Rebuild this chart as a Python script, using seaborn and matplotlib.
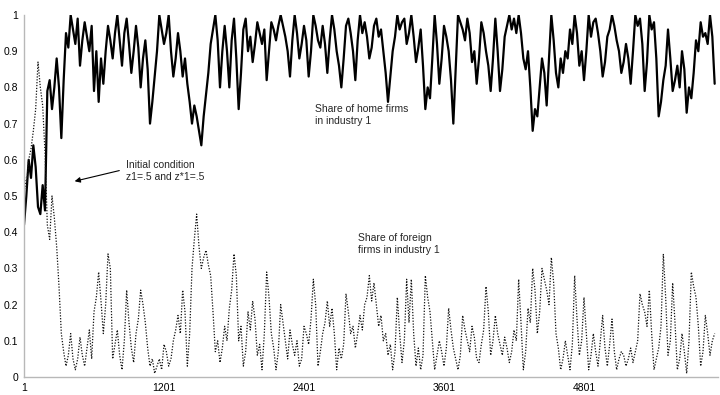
import numpy as np
import pandas as pd
import matplotlib
matplotlib.use("Agg")
import matplotlib.pyplot as plt
import seaborn as sns

# ==============================================================
# DATA (main readings every 40 periods,
# in-between readings at the half steps)
# ==============================================================
STEP = 40
home_share = [
    0.42, 0.60, 0.64, 0.47, 0.53, 0.79, 0.74, 0.88, 0.66, 0.95,
    1.00, 0.92, 0.86, 0.98, 0.90, 0.79, 0.76, 0.81, 0.97, 0.88,
    1.00, 0.86, 0.99, 0.84, 0.97, 0.80, 0.93, 0.70, 0.83, 1.00,
    0.92, 1.00, 0.83, 0.95, 0.83, 0.81, 0.70, 0.72, 0.64, 0.78,
    0.92, 1.00, 0.80, 0.97, 0.80, 0.99, 0.74, 0.96, 0.90, 0.87,
    0.98, 0.92, 0.82, 0.98, 0.93, 1.00, 0.94, 0.83, 1.00, 0.88,
    0.97, 0.83, 1.00, 0.93, 0.97, 0.84, 1.00, 0.90, 0.80, 0.97,
    0.95, 0.82, 1.00, 0.98, 0.88, 0.97, 0.94, 0.90, 0.76, 0.90,
    1.00, 0.98, 0.92, 1.00, 0.87, 0.96, 0.74, 0.77, 1.00, 0.81,
    0.97, 0.90, 0.70, 1.00, 0.96, 0.99, 0.87, 0.81, 0.98, 0.90,
    0.79, 0.99, 0.79, 0.94, 1.00, 0.99, 1.00, 0.88, 0.90, 0.68,
    0.72, 0.88, 0.75, 1.00, 0.84, 0.88, 0.90, 0.96, 1.00, 0.86,
    0.82, 1.00, 0.98, 0.95, 0.83, 0.94, 1.00, 0.93, 0.84, 0.92,
    0.81, 1.00, 0.99, 0.79, 1.00, 0.98, 0.72, 0.82, 0.96, 0.79,
    0.86, 0.90, 0.73, 0.77, 0.93, 0.98, 0.95, 1.00, 0.81,
]
home_share_mid = [
    0.50, 0.55, 0.58, 0.45, 0.46, 0.82, 0.80, 0.80, 0.82, 0.91,
    0.96, 0.99, 0.93, 0.94, 0.97, 0.90, 0.88, 0.90, 0.93, 0.95,
    0.93, 0.95, 0.92, 0.90, 0.91, 0.88, 0.85, 0.76, 0.90, 0.96,
    0.95, 0.90, 0.88, 0.90, 0.88, 0.76, 0.75, 0.68, 0.72, 0.84,
    0.96, 0.93, 0.90, 0.90, 0.93, 0.88, 0.84, 0.99, 0.94, 0.92,
    0.95, 0.96, 0.90, 0.96, 0.97, 0.97, 0.90, 0.93, 0.95, 0.92,
    0.93, 0.90, 0.97, 0.91, 0.92, 0.93, 0.96, 0.86, 0.88, 0.99,
    0.90, 0.93, 0.95, 0.94, 0.91, 0.99, 0.96, 0.84, 0.83, 0.94,
    0.96, 0.99, 0.95, 0.94, 0.91, 0.86, 0.80, 0.88, 0.92, 0.88,
    0.94, 0.82, 0.85, 0.98, 0.93, 0.95, 0.90, 0.88, 0.95, 0.86,
    0.88, 0.90, 0.85, 0.97, 0.96, 0.95, 0.95, 0.85, 0.80, 0.74,
    0.80, 0.84, 0.88, 0.93, 0.80, 0.84, 0.88, 0.92, 0.95, 0.90,
    0.90, 0.94, 0.99, 0.90, 0.87, 0.96, 0.97, 0.90, 0.87, 0.88,
    0.90, 0.97, 0.92, 0.87, 0.96, 0.88, 0.76, 0.86, 0.88, 0.82,
    0.80, 0.85, 0.80, 0.84, 0.90, 0.94, 0.92, 0.94,
]
foreign_share = [
    0.56, 0.60, 0.68, 0.87, 0.75, 0.42, 0.50, 0.36, 0.12, 0.03,
    0.12, 0.02, 0.11, 0.03, 0.13, 0.18, 0.29, 0.12, 0.34, 0.05,
    0.13, 0.02, 0.24, 0.08, 0.12, 0.24, 0.15, 0.03, 0.01, 0.05,
    0.09, 0.03, 0.10, 0.17, 0.24, 0.03, 0.30, 0.45, 0.30, 0.35,
    0.28, 0.07, 0.04, 0.14, 0.19, 0.34, 0.10, 0.03, 0.18, 0.21,
    0.06, 0.02, 0.29, 0.12, 0.02, 0.20, 0.10, 0.13, 0.06, 0.03,
    0.14, 0.09, 0.27, 0.03, 0.12, 0.21, 0.19, 0.02, 0.05, 0.23,
    0.12, 0.08, 0.17, 0.20, 0.28, 0.26, 0.14, 0.10, 0.06, 0.02,
    0.22, 0.04, 0.27, 0.27, 0.03, 0.02, 0.28, 0.18, 0.02, 0.10,
    0.03, 0.19, 0.08, 0.02, 0.17, 0.10, 0.14, 0.05, 0.09, 0.25,
    0.06, 0.17, 0.09, 0.11, 0.04, 0.13, 0.27, 0.02, 0.19, 0.30,
    0.12, 0.30, 0.24, 0.33, 0.12, 0.02, 0.10, 0.02, 0.28, 0.06,
    0.22, 0.02, 0.12, 0.03, 0.17, 0.03, 0.16, 0.02, 0.07, 0.03,
    0.08, 0.07, 0.23, 0.18, 0.24, 0.02, 0.08, 0.34, 0.06, 0.26,
    0.02, 0.12, 0.01, 0.29, 0.22, 0.03, 0.17, 0.06, 0.12,
]
foreign_share_mid = [
    0.52, 0.63, 0.74, 0.80, 0.62, 0.38, 0.44, 0.25, 0.07, 0.06,
    0.05, 0.05, 0.06, 0.08, 0.05, 0.22, 0.21, 0.20, 0.30, 0.09,
    0.06, 0.10, 0.15, 0.04, 0.16, 0.20, 0.08, 0.05, 0.03, 0.02,
    0.07, 0.05, 0.13, 0.12, 0.18, 0.12, 0.38, 0.36, 0.33, 0.31,
    0.18, 0.10, 0.08, 0.10, 0.24, 0.28, 0.14, 0.07, 0.13, 0.16,
    0.09, 0.12, 0.22, 0.08, 0.07, 0.15, 0.05, 0.09, 0.10, 0.05,
    0.12, 0.16, 0.20, 0.07, 0.15, 0.14, 0.12, 0.08, 0.09, 0.18,
    0.14, 0.12, 0.13, 0.22, 0.21, 0.20, 0.17, 0.12, 0.09, 0.07,
    0.12, 0.10, 0.15, 0.12, 0.08, 0.06, 0.22, 0.10, 0.06, 0.07,
    0.08, 0.13, 0.05, 0.06, 0.13, 0.07, 0.11, 0.04, 0.13, 0.18,
    0.10, 0.12, 0.06, 0.08, 0.07, 0.10, 0.15, 0.07, 0.15, 0.24,
    0.18, 0.27, 0.20, 0.26, 0.08, 0.05, 0.06, 0.09, 0.16, 0.10,
    0.12, 0.06, 0.07, 0.10, 0.08, 0.09, 0.07, 0.05, 0.06, 0.05,
    0.04, 0.10, 0.20, 0.14, 0.12, 0.05, 0.14, 0.22, 0.10, 0.15,
    0.05, 0.07, 0.10, 0.25, 0.14, 0.07, 0.12, 0.10,
]
x_ticks = [1, 1201, 2401, 3601, 4801]
y_ticks = [0, 0.1, 0.2, 0.3, 0.4, 0.5, 0.6, 0.7, 0.8, 0.9, 1]

main = pd.DataFrame({"period": [1 + STEP * i for i in range(len(home_share))],
                     "home": home_share, "foreign": foreign_share})
mid = pd.DataFrame({"period": [1 + STEP // 2 + STEP * i for i in range(len(home_share_mid))],
                    "home": home_share_mid, "foreign": foreign_share_mid})
df = pd.concat([main, mid]).sort_values("period").reset_index(drop=True)

# ==============================================================
# PLOT
# ==============================================================
sns.set_style("white")
plt.rcParams['font.family'] = ['Liberation Sans', 'DejaVu Sans']

fig = plt.figure(figsize=(7.2, 3.95), dpi=100)
ax = fig.add_axes([24 / 720, 18 / 395, 694 / 720, 362 / 395])

sns.lineplot(data=df, x="period", y="home", ax=ax, color="black", linewidth=1.6)
sns.lineplot(data=df, x="period", y="foreign", ax=ax, color="#111111",
             linewidth=0.9, linestyle=(0, (1, 1.3)))

ax.set_xlim(1, 1 + 694 * 1200 / 140)
ax.set_ylim(0, 1)
ax.set_xticks(x_ticks)
ax.set_xticklabels([str(t) for t in x_ticks])
ax.set_yticks(y_ticks)
ax.set_yticklabels(["0" if v == 0 else ("1" if v == 1 else f"{v:.1f}") for v in y_ticks])
ax.tick_params(axis="both", length=0, labelsize=7.5, pad=4, colors="black")
ax.set_xlabel("")
ax.set_ylabel("")

for side in ["top", "right"]:
    ax.spines[side].set_visible(False)
for side in ["left", "bottom"]:
    ax.spines[side].set_color("#b8b8b8")
    ax.spines[side].set_linewidth(1.0)

ax.text(2495, 0.755, "Share of home firms\nin industry 1", fontsize=7.5,
        va="top", ha="left", linespacing=1.3)
ax.text(2864, 0.398, "Share of foreign\nfirms in industry 1", fontsize=7.5,
        va="top", ha="left", linespacing=1.3)
ax.text(875, 0.60, "Initial condition\nz1=.5 and z*1=.5", fontsize=7.5,
        va="top", ha="left", linespacing=1.3)
ax.annotate("", xy=(412, 0.539), xytext=(841, 0.572),
            arrowprops=dict(arrowstyle="-|>", color="black", lw=0.8,
                            mutation_scale=8))

fig.savefig("out.png", dpi=100)
